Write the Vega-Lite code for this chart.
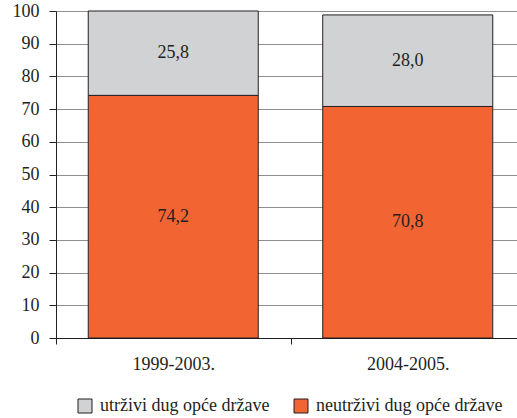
{
  "$schema": "https://vega.github.io/schema/vega-lite/v6.json",
  "autosize": {"type": "none"},
  "width": 461,
  "height": 327,
  "padding": {"left": 56, "top": 11, "right": 0, "bottom": 80},
  "background": "white",
  "config": {
    "locale": {"number": {"decimal": ",", "thousands": ".", "grouping": [3], "currency": ["", " kn"]}},
    "font": "Liberation Serif",
    "view": {"stroke": null},
    "axis": {"labelFont": "Liberation Serif", "labelFontSize": 18, "labelColor": "#231f20", "domainColor": "#231f20", "tickColor": "#231f20", "title": null},
    "axisY": {"values": [0, 10, 20, 30, 40, 50, 60, 70, 80, 90, 100], "tickSize": 7, "labelPadding": 10, "grid": true, "gridColor": "#8f8f8f", "gridWidth": 1}
  },
  "data": {
    "values": [
      {"razdoblje": "1999-2003.", "vrsta": "neutrživi dug opće države", "udio": 74.2},
      {"razdoblje": "1999-2003.", "vrsta": "utrživi dug opće države", "udio": 25.8},
      {"razdoblje": "2004-2005.", "vrsta": "neutrživi dug opće države", "udio": 70.8},
      {"razdoblje": "2004-2005.", "vrsta": "utrživi dug opće države", "udio": 28.0}
    ]
  },
  "transform": [
    {"stack": "udio", "groupby": ["razdoblje"], "sort": [{"field": "vrsta", "order": "ascending"}], "as": ["od", "do"]},
    {"calculate": "(datum.od + datum.do) / 2", "as": "sredina"}
  ],
  "encoding": {
    "x": {
      "field": "razdoblje",
      "type": "nominal",
      "scale": {"paddingInner": 0, "paddingOuter": 0, "range": [0, 469]},
      "axis": {"labelAngle": 0, "tickBand": "extent", "tickSize": 6, "labelPadding": 11}
    }
  },
  "layer": [
    {
      "mark": {"type": "bar", "width": {"band": 0.725}, "stroke": "#231f20", "strokeWidth": 1},
      "encoding": {
        "y": {
          "field": "od",
          "type": "quantitative",
          "scale": {"domain": [0, 100], "nice": false}
        },
        "y2": {"field": "do"},
        "color": {
          "field": "vrsta",
          "type": "nominal",
          "scale": {"domain": ["utrživi dug opće države", "neutrživi dug opće države"], "range": ["#d1d2d4", "#f26532"]},
          "legend": {
            "orient": "none",
            "legendX": 20,
            "legendY": 386,
            "direction": "horizontal",
            "title": null,
            "symbolType": "square",
            "symbolSize": 196,
            "symbolStrokeColor": "#231f20",
            "symbolStrokeWidth": 1,
            "labelFont": "Liberation Serif",
            "labelFontSize": 18,
            "labelColor": "#231f20",
            "labelLimit": 300,
            "labelOffset": 6,
            "columnPadding": 22
          }
        }
      }
    },
    {
      "mark": {"type": "text", "font": "Liberation Serif", "fontSize": 18, "color": "#231f20"},
      "encoding": {
        "y": {"field": "sredina", "type": "quantitative", "scale": {"domain": [0, 100], "nice": false}},
        "text": {"field": "udio", "type": "quantitative", "format": ".1f"}
      }
    }
  ]
}
